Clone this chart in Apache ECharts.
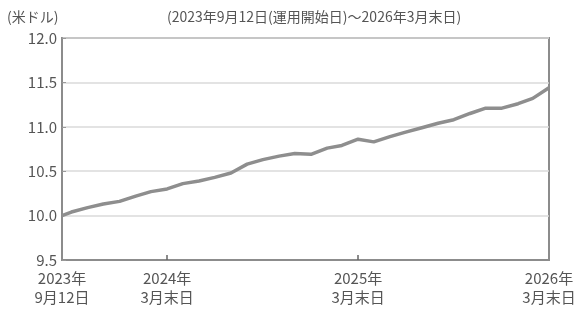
<!DOCTYPE html>
<html>
<head>
<meta charset="utf-8">
<script src="https://cdn.jsdelivr.net/npm/echarts@6/dist/echarts.min.js"></script>
<style>
  html, body { margin: 0; padding: 0; background: #fff; }
  #chart { width: 584px; height: 315px; }
</style>
</head>
<body>
<div id="chart"></div>
<script>
// 基準価額の推移 (month-end values)
const dates = [
  '2023-09-12', '2023-09-30', '2023-10-31', '2023-11-30', '2023-12-31',
  '2024-01-31', '2024-02-29', '2024-03-31', '2024-04-30', '2024-05-31',
  '2024-06-30', '2024-07-31', '2024-08-31', '2024-09-30', '2024-10-31',
  '2024-11-30', '2024-12-31', '2025-01-31', '2025-02-28', '2025-03-31',
  '2025-04-30', '2025-05-31', '2025-06-30', '2025-07-31', '2025-08-31',
  '2025-09-30', '2025-10-31', '2025-11-30', '2025-12-31', '2026-01-31',
  '2026-02-28', '2026-03-31'
];
const navValues = [
  10.00, 10.04, 10.09, 10.13, 10.16,
  10.22, 10.27, 10.30, 10.36, 10.39,
  10.43, 10.48, 10.58, 10.63, 10.67,
  10.70, 10.69, 10.76, 10.79, 10.86,
  10.83, 10.89, 10.94, 10.99, 11.04,
  11.08, 11.15, 11.21, 11.21, 11.26,
  11.32, 11.44
];
const tickDates = ['2023-09-12', '2024-03-31', '2025-03-31', '2026-03-31'];
const tickLabels = ['2023年\n9月12日', '2024年\n3月末日', '2025年\n3月末日', '2026年\n3月末日'];

const unitLabel = '(米ドル)';
const periodLabel = '(2023年9月12日(運用開始日)～2026年3月末日)';

const toTime = (s) => {
  const p = s.split('-').map(Number);
  return Date.UTC(p[0], p[1] - 1, p[2]);
};
const tickTimes = tickDates.map(toTime);

const font = '"Noto Sans CJK JP", "Noto Sans", sans-serif';
const textColor = '#555';

const chart = echarts.init(document.getElementById('chart'));

const option = {
  animation: false,
  backgroundColor: '#fff',
  textStyle: { fontFamily: font },
  graphic: [
    {
      type: 'text', left: 7, top: 10,
      style: { text: unitLabel, font: '14px ' + font, fill: textColor }
    },
    {
      type: 'text', left: 167, top: 10,
      style: { text: periodLabel, font: '14px ' + font, fill: textColor }
    }
  ],
  grid: {
    left: 62,
    right: 35,
    top: 38,
    bottom: 55,
    show: true,
    borderColor: '#8c8c8c',
    borderWidth: 2,
    backgroundColor: 'transparent'
  },
  xAxis: {
    type: 'value',
    min: tickTimes[0],
    max: tickTimes[tickTimes.length - 1],
    axisLine: { lineStyle: { color: '#8c8c8c', width: 2 } },
    axisTick: {
      show: true,
      inside: true,
      length: 5,
      customValues: tickTimes.slice(1, -1),
      lineStyle: { color: '#666', width: 1.5 }
    },
    axisLabel: {
      customValues: tickTimes,
      color: textColor,
      fontSize: 15,
      lineHeight: 19,
      margin: 9,
      hideOverlap: false,
      formatter: (v) => {
        const i = tickTimes.indexOf(v);
        return i >= 0 ? tickLabels[i] : '';
      }
    },
    splitLine: { show: false }
  },
  yAxis: {
    type: 'value',
    min: 9.5,
    max: 12,
    interval: 0.5,
    axisLine: { show: true, lineStyle: { color: '#8c8c8c', width: 2 } },
    axisTick: { show: true, inside: true, length: 4, lineStyle: { color: '#999' } },
    axisLabel: {
      color: textColor,
      fontSize: 15,
      margin: 5,
      formatter: (v) => v.toFixed(1)
    },
    splitLine: { show: true, lineStyle: { color: '#dadada', width: 1.5 } }
  },
  series: [
    {
      type: 'line',
      data: dates.map((d, i) => [toTime(d), navValues[i]]),
      showSymbol: false,
      smooth: false,
      lineStyle: { color: '#8e8e8e', width: 3.5 },
      z: 3
    }
  ]
};

chart.setOption(option);
</script>
</body>
</html>
